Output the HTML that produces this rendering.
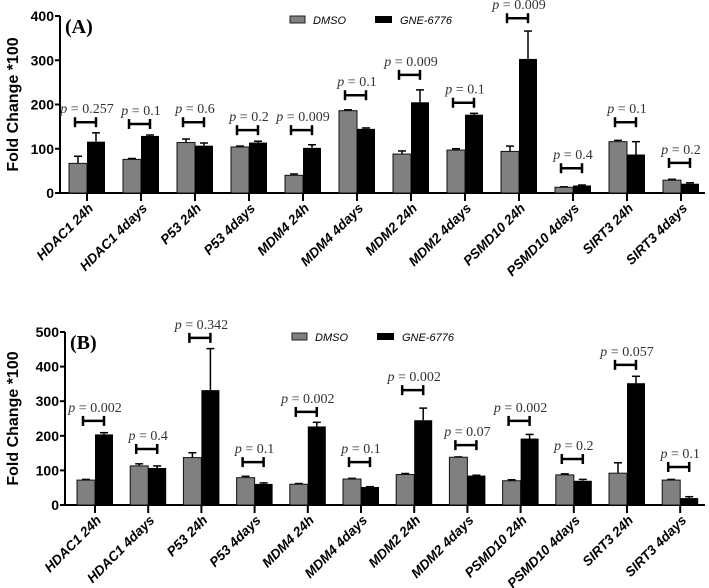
<!DOCTYPE html>
<html><head><meta charset="utf-8"><style>
html,body{margin:0;padding:0;background:#fff;}
svg{display:block;}
</style></head><body>
<svg id="chart" width="709" height="588" xmlns="http://www.w3.org/2000/svg"></svg>
<script>
const categories = ["HDAC1  24h","HDAC1 4days","P53 24h","P53 4days","MDM4 24h","MDM4 4days","MDM2 24h","MDM2 4days","PSMD10 24h","PSMD10 4days","SIRT3 24h","SIRT3 4days"];
const dmsoA = [67,76,114,104,40,186,88,97,94,13,116,29];
const dmsoErrA = [16,2,8,2,3,2,7,3,12,1,3,2];
const gneA = [116,129,107,114,102,145,205,177,303,17,87,21];
const gneErrA = [20,2,6,3,7,2,28,3,63,1,29,2];
const pA = ["0.257","0.1","0.6","0.2","0.009","0.1","0.009","0.1","0.009","0.4","0.1","0.2"];
const bracketA = [160,156,160,142,142,221,267,204,395,56,160,68];
const ticksA = [0,100,200,300,400];
const dmsoB = [72,113,137,79,60,75,88,138,70,87,92,72];
const dmsoErrB = [2,6,14,4,2,2,3,1,3,3,30,2];
const gneB = [204,107,332,61,227,52,245,85,192,70,352,20];
const gneErrB = [5,6,120,3,12,1,35,1,12,4,20,4];
const pB = ["0.002","0.4","0.342","0.1","0.002","0.1","0.002","0.07","0.002","0.2","0.057","0.1"];
const bracketB = [243,162,483,124,269,124,332,173,243,133,405,110];
const ticksB = [0,100,200,300,400,500];

const svg = document.getElementById('chart');
const NS = 'http://www.w3.org/2000/svg';
function el(tag, attrs, parent, text){
  const e = document.createElementNS(NS, tag);
  for (const k in attrs) e.setAttribute(k, attrs[k]);
  if (text !== undefined) e.textContent = text;
  (parent||svg).appendChild(e);
  return e;
}

function panel(cfg){
  const g = el('g', {});
  
  
  const y = v => cfg.y0 - (v - 0) * (cfg.y0 - cfg.yTop) / cfg.yMax;
  const x = i => cfg.x0 + i * cfg.step;
  const bw = 18;
  const ax = el('line', {x1:cfg.axX, y1:cfg.yTop, x2:cfg.axX, y2:cfg.y0, stroke:'#000','stroke-width':2}, g);
  
  
  const xa = el('line', {x1:cfg.axX, y1:cfg.y0, x2:705, y2:cfg.y0, stroke:'#000','stroke-width':2}, g);
  
  
  cfg.ticks.forEach(t => {
    el('line', {x1:cfg.axX-5, y1:y(t), x2:cfg.axX, y2:y(t), stroke:'#000','stroke-width':2}, g);
    const tl = el('text', {x:cfg.axX-6, y:y(t)+5, 'text-anchor':'end', 'font-family':'Liberation Sans, sans-serif', 'font-weight':'bold', 'font-size':14}, g, String(t));
    
    
  });
  const yt = el('text', {x:0, y:0, transform:`translate(18,${(cfg.yTop+cfg.y0)/2}) rotate(-90)`, 'text-anchor':'middle', 'font-family':'Liberation Sans, sans-serif', 'font-weight':'bold', 'font-size':16}, g, 'Fold Change *100');
  
  
  const pl = el('text', {x:cfg.axX+5, y:cfg.yTop+17, 'font-family':'Liberation Serif, serif', 'font-weight':'bold', 'font-size':20}, g, cfg.label);
  
  
  const lg = el('g', {}, g);
  
  
  el('rect', {x:cfg.legX, y:cfg.legY-4, width:15, height:7, fill:'#808080', stroke:'#222','stroke-width':1}, lg);
  el('text', {x:cfg.legX+23, y:cfg.legY+4, 'font-family':'Liberation Sans, sans-serif', 'font-style':'italic', 'font-size':11}, lg, 'DMSO');
  el('rect', {x:cfg.legX+85, y:cfg.legY-4, width:17, height:7, fill:'#000'}, lg);
  el('text', {x:cfg.legX+110, y:cfg.legY+4, 'font-family':'Liberation Sans, sans-serif', 'font-style':'italic', 'font-size':11}, lg, 'GNE-6776');

  categories.forEach((c, i) => {
    const cx = x(i);
    const d = cfg.dmso[i], de = cfg.dmsoErr[i], gv = cfg.gne[i], ge = cfg.gneErr[i];
    el('line', {x1:cx-bw/2, y1:y(d), x2:cx-bw/2, y2:y(d+de), stroke:'#000','stroke-width':1.5}, g);
    el('line', {x1:cx-bw/2-4, y1:y(d+de), x2:cx-bw/2+4, y2:y(d+de), stroke:'#000','stroke-width':1.5}, g);
    el('line', {x1:cx+bw/2, y1:y(gv), x2:cx+bw/2, y2:y(gv+ge), stroke:'#000','stroke-width':1.5}, g);
    el('line', {x1:cx+bw/2-4, y1:y(gv+ge), x2:cx+bw/2+4, y2:y(gv+ge), stroke:'#000','stroke-width':1.5}, g);
    const b1 = el('rect', {x:cx-bw, y:y(d), width:bw, height:cfg.y0-y(d), fill:'#808080', stroke:'#111','stroke-width':1}, g);
    
    
    const b2 = el('rect', {x:cx, y:y(gv), width:bw, height:cfg.y0-y(gv), fill:'#000'}, g);
    
    
    el('line', {x1:cx, y1:cfg.y0, x2:cx, y2:cfg.y0+8, stroke:'#000','stroke-width':2}, g);
    const by = y(cfg.bracket[i]);
    const br = el('g', {stroke:'#000','stroke-width':2.5}, g);
    
    
    el('line', {x1:cx-12, y1:by, x2:cx+9, y2:by}, br);
    el('line', {x1:cx-12, y1:by-5, x2:cx-12, y2:by+5}, br);
    el('line', {x1:cx+9, y1:by-5, x2:cx+9, y2:by+5}, br);
    const pt = el('text', {x:cx, y:by-9, 'text-anchor':'middle', 'font-family':'Liberation Serif, serif', 'font-size':14, fill:'#333'}, g);
    
    
    el('tspan', {'font-style':'italic'}, pt, 'p');
    el('tspan', {}, pt, ' = ' + cfg.p[i]);
    const xl = el('text', {x:0, y:0, transform:`translate(${cx+7},${cfg.y0+16}) rotate(-45)`, 'text-anchor':'end', 'font-family':'Liberation Sans, sans-serif', 'font-weight':'bold', 'font-style':'italic', 'font-size':13.5}, g, c);
    
    
  });
}

panel({name:'panel-a', label:'(A)', axX:60, y0:193, yTop:16, yMax:400, x0:87, step:54, ticks:ticksA,
  dmso:dmsoA, dmsoErr:dmsoErrA, gne:gneA, gneErr:gneErrA, p:pA, bracket:bracketA, legX:290, legY:20});
panel({name:'panel-b', label:'(B)', axX:65, y0:505, yTop:332, yMax:500, x0:95, step:53.2, ticks:ticksB,
  dmso:dmsoB, dmsoErr:dmsoErrB, gne:gneB, gneErr:gneErrB, p:pB, bracket:bracketB, legX:292, legY:337});
</script>
</body></html>
